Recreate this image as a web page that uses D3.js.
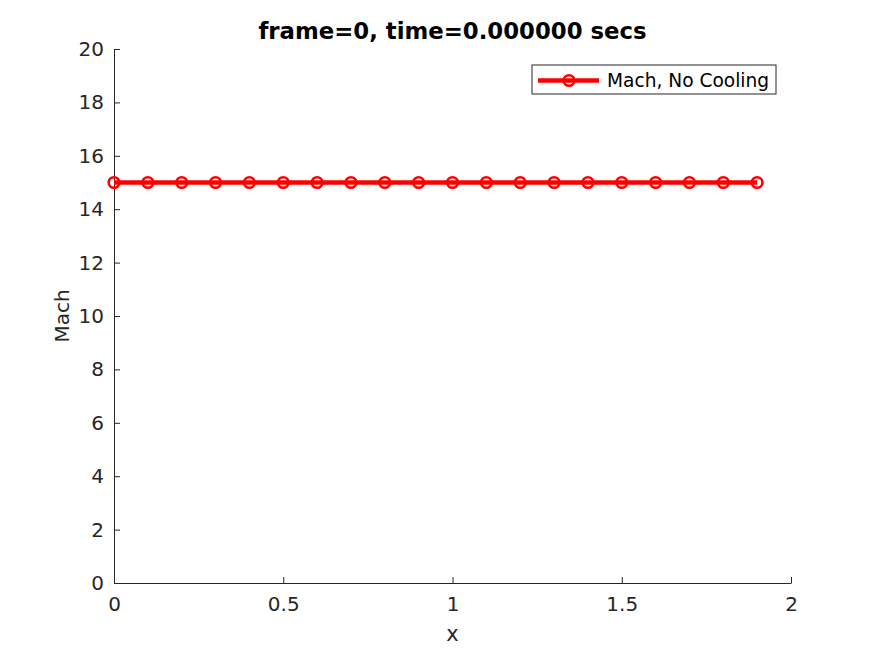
<!DOCTYPE html>
<html>
<head>
<meta charset="utf-8">
<script src="https://cdn.jsdelivr.net/npm/d3@7"></script>
<style>
  body { margin: 0; background: #fff; }
  text { font-family: "DejaVu Sans", sans-serif; }
</style>
</head>
<body>
<svg id="chart" width="875" height="656"></svg>
<script>
// data
var xValues = [0, 0.1, 0.2, 0.3, 0.4, 0.5, 0.6, 0.7, 0.8, 0.9, 1.0, 1.1, 1.2, 1.3, 1.4, 1.5, 1.6, 1.7, 1.8, 1.9];
var machValues = [15, 15, 15, 15, 15, 15, 15, 15, 15, 15, 15, 15, 15, 15, 15, 15, 15, 15, 15, 15];
var xTicks = [0, 0.5, 1, 1.5, 2];
var yTicks = [0, 2, 4, 6, 8, 10, 12, 14, 16, 18, 20];
var seriesName = "Mach, No Cooling";
var titleText = "frame=0, time=0.000000 secs";

var svg = d3.select("#chart");
var plotLeft = 114, plotRight = 791, plotTop = 49, plotBottom = 583;
var axisColor = "#262626";

var x = d3.scaleLinear().domain([0, 2]).range([plotLeft, plotRight]);
var y = d3.scaleLinear().domain([0, 20]).range([plotBottom, plotTop]);

var data = xValues.map(function (d, i) { return { x: d, y: machValues[i] }; });

// axes (MATLAB style: ticks inward, no box)
var xAxis = svg.append("g")
    .attr("transform", "translate(0," + plotBottom + ")")
    .call(d3.axisBottom(x).tickValues(xTicks).tickSizeInner(-6).tickSizeOuter(0).tickPadding(14)
        .tickFormat(d3.format("")));
var yAxis = svg.append("g")
    .attr("transform", "translate(" + plotLeft + ",0)")
    .call(d3.axisLeft(y).tickValues(yTicks).tickSizeInner(-6).tickSizeOuter(0).tickPadding(10));

[xAxis, yAxis].forEach(function (g) {
    g.select(".domain").attr("stroke", axisColor).attr("stroke-width", 1);
    g.selectAll(".tick line").attr("stroke", axisColor);
    g.selectAll(".tick text").attr("fill", axisColor).style("font-size", "20px");
});

// labels
svg.append("text").attr("x", (plotLeft + plotRight) / 2).attr("y", 641)
    .attr("text-anchor", "middle").attr("fill", axisColor).style("font-size", "21px").text("x");
svg.append("text").attr("transform", "translate(69," + (plotTop + plotBottom) / 2 + ") rotate(-90)")
    .attr("text-anchor", "middle").attr("fill", axisColor).style("font-size", "20px").text("Mach");
svg.append("text").attr("x", 452.5).attr("y", 39)
    .attr("text-anchor", "middle").attr("fill", "#000").style("font-size", "22.8px")
    .style("font-weight", "bold").text(titleText);

// series
var line = d3.line().x(function (d) { return x(d.x); }).y(function (d) { return y(d.y); });
svg.append("path").datum(data).attr("d", line)
    .attr("fill", "none").attr("stroke", "#ff0000").attr("stroke-width", 4.5);
svg.append("g").selectAll("circle").data(data).join("circle")
    .attr("cx", function (d) { return x(d.x); })
    .attr("cy", function (d) { return y(d.y); })
    .attr("r", 5.3)
    .attr("fill", "none").attr("stroke", "#ff0000").attr("stroke-width", 2.6);

// legend
var lg = svg.append("g").attr("transform", "translate(532,65)");
lg.append("rect").attr("width", 244).attr("height", 29)
    .attr("fill", "#fff").attr("stroke", axisColor).attr("stroke-width", 1);
lg.append("line").attr("x1", 6).attr("x2", 67).attr("y1", 15.5).attr("y2", 15.5)
    .attr("stroke", "#ff0000").attr("stroke-width", 4.5);
lg.append("circle").attr("cx", 37).attr("cy", 15.5).attr("r", 5.3)
    .attr("fill", "none").attr("stroke", "#ff0000").attr("stroke-width", 2.6);
lg.append("text").attr("x", 75).attr("y", 22).attr("fill", "#000")
    .style("font-size", "18.6px").text(seriesName);
</script>
</body>
</html>
